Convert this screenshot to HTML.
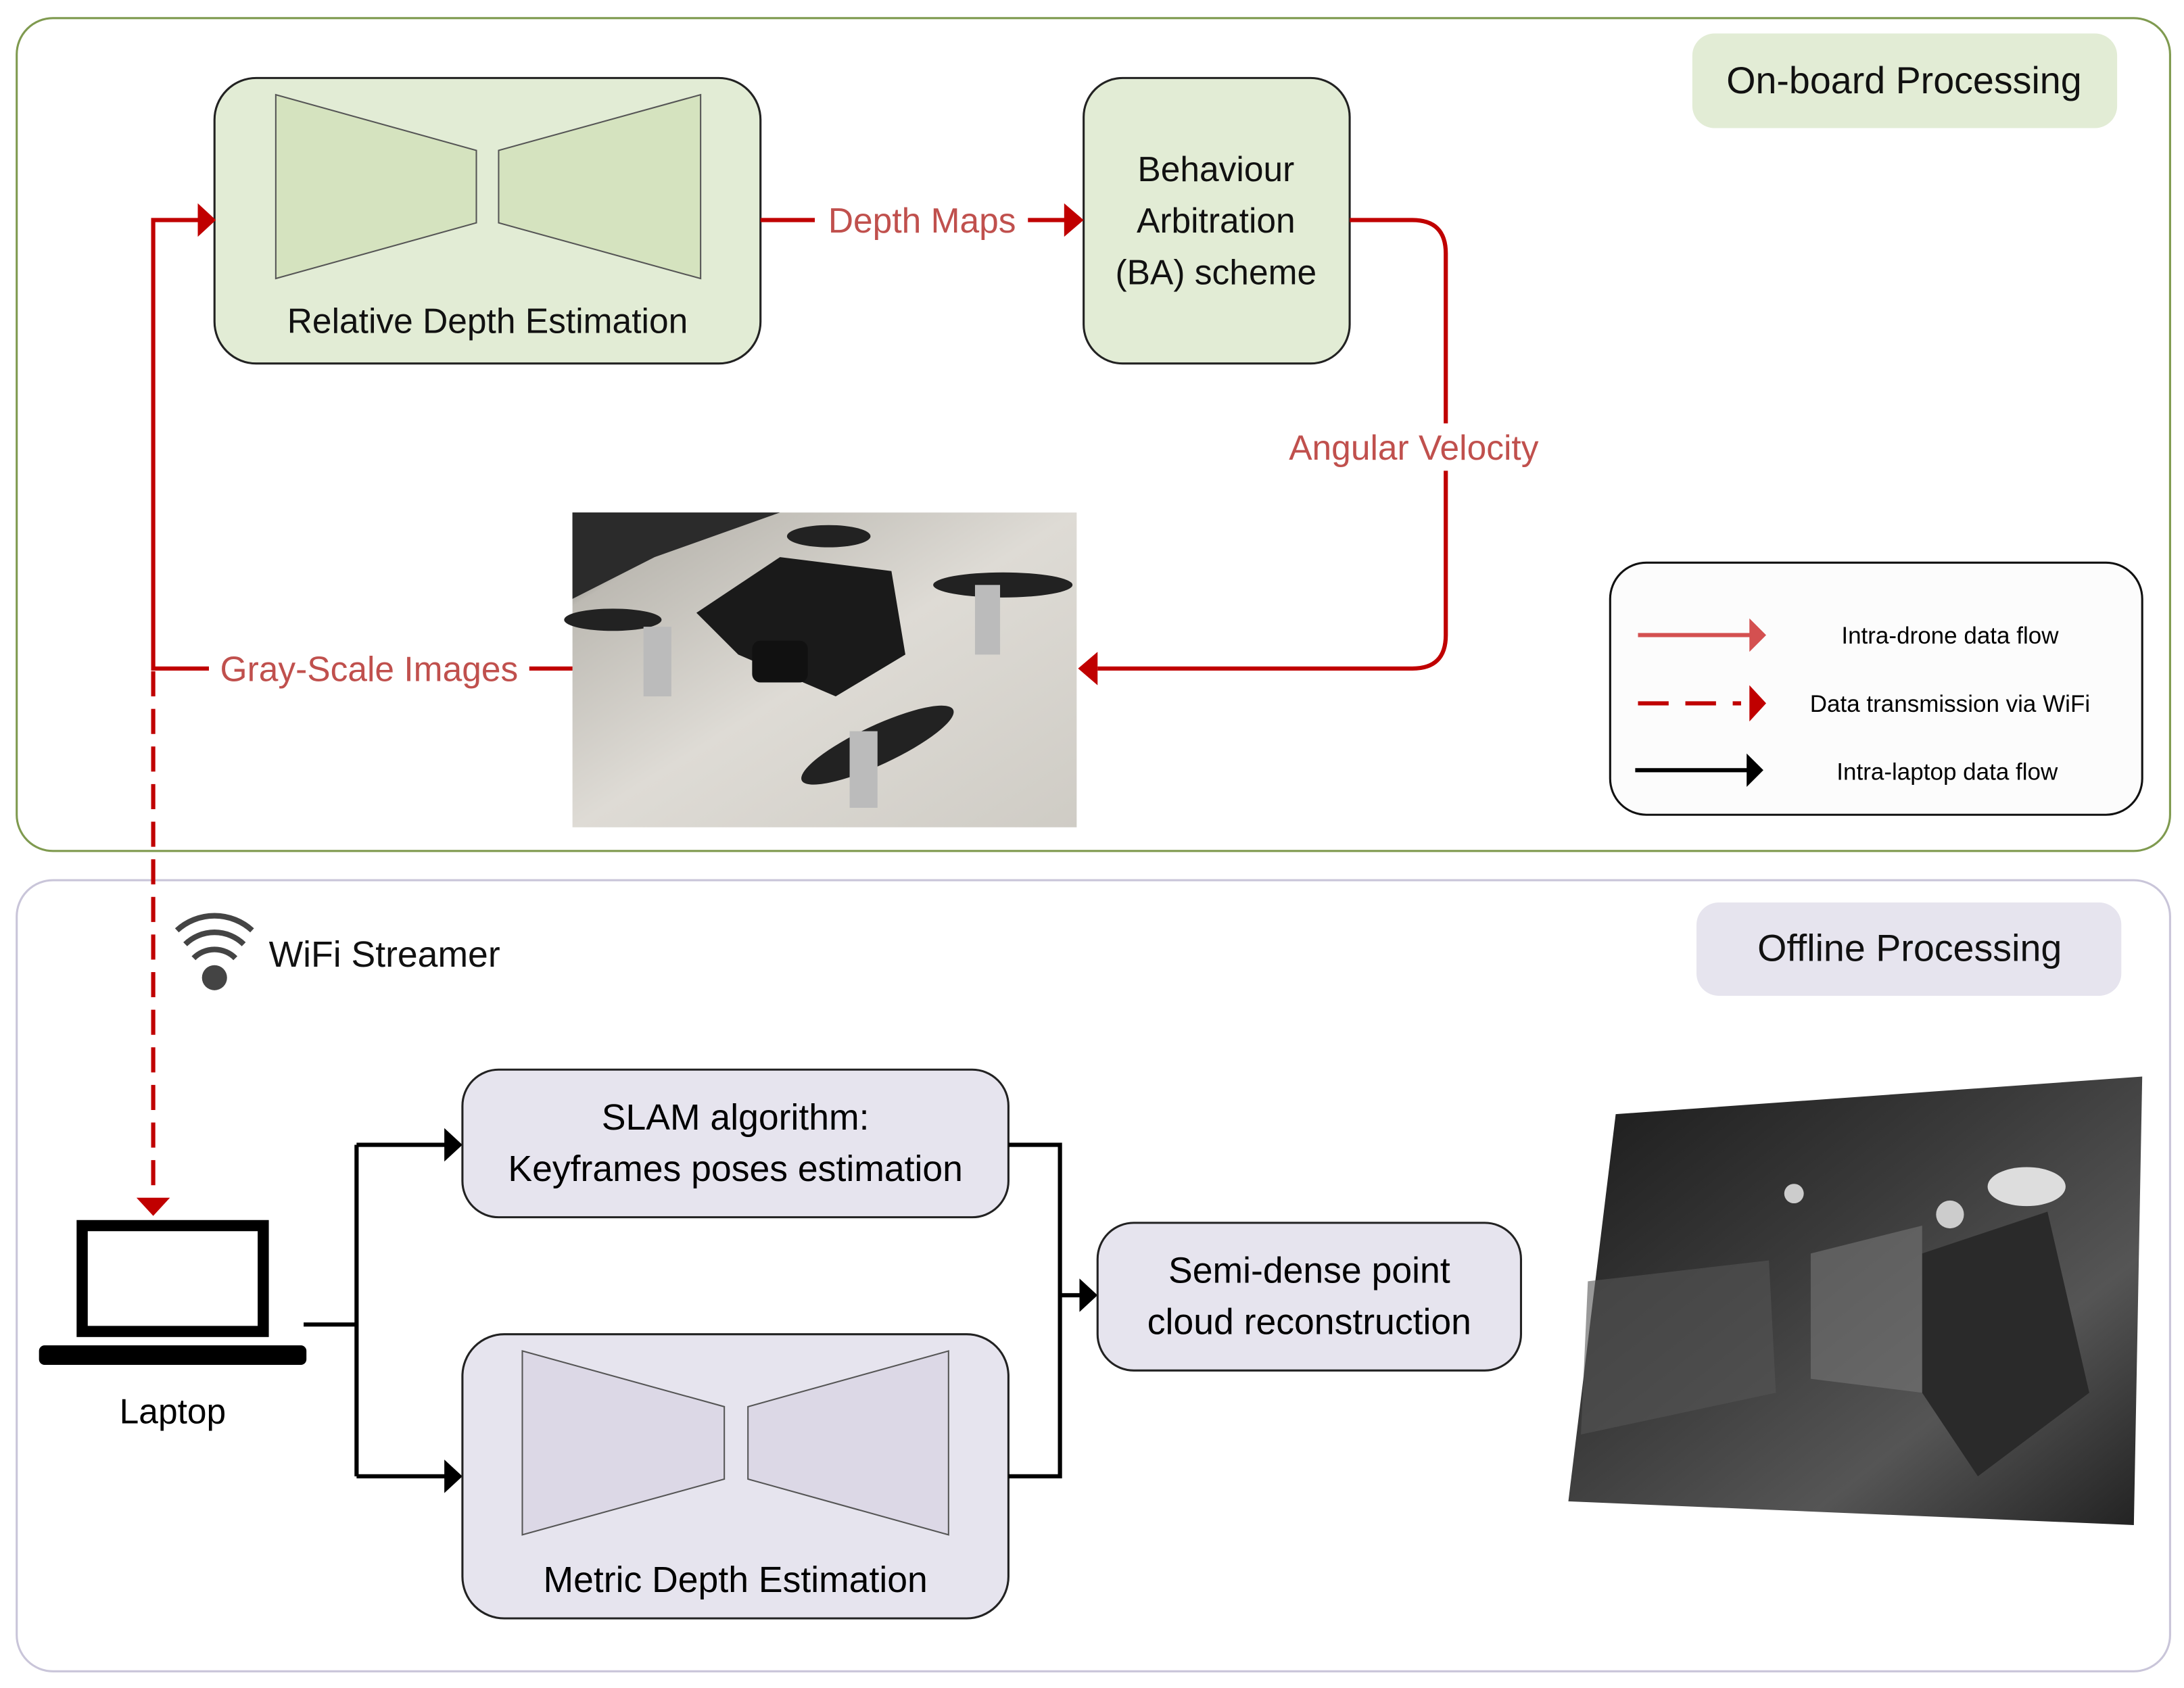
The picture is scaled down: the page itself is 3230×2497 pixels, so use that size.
<!DOCTYPE html>
<html><head><meta charset="utf-8"><style>
html,body{margin:0;padding:0;background:#fff}
svg{display:block}
text{font-family:"Liberation Sans",sans-serif}
</style></head><body>
<svg width="3230" height="2497" viewBox="0 0 1568 1212" preserveAspectRatio="none" xmlns="http://www.w3.org/2000/svg">
<defs>
<linearGradient id="pc" x1="0" y1="0" x2="1" y2="1">
<stop offset="0" stop-color="#1a1a1a"/><stop offset="0.4" stop-color="#3a3a3a"/><stop offset="0.7" stop-color="#555"/><stop offset="1" stop-color="#222"/>
</linearGradient>
<linearGradient id="ph" x1="0" y1="0" x2="1" y2="1">
<stop offset="0" stop-color="#2a2a2a"/><stop offset="0.15" stop-color="#bdbab3"/><stop offset="0.5" stop-color="#dedbd5"/><stop offset="1" stop-color="#cfccc5"/>
</linearGradient>
</defs>
<!-- panels -->
<rect x="12" y="13" width="1546" height="598" rx="26" fill="#fff" stroke="#7f9a4f" stroke-width="1.5"/>
<rect x="12" y="632" width="1546" height="568" rx="26" fill="#fff" stroke="#c9c5d9" stroke-width="1.5"/>
<rect x="1215" y="24" width="305" height="68" rx="16" fill="#e2ecd5"/>
<text x="1367" y="67" font-size="27" text-anchor="middle" fill="#111">On-board Processing</text>
<rect x="1218" y="648" width="305" height="67" rx="16" fill="#e6e4ee"/>
<text x="1371" y="690" font-size="27" text-anchor="middle" fill="#111">Offline Processing</text>

<!-- relative depth -->
<rect x="154" y="56" width="392" height="205" rx="30" fill="#e2ecd5" stroke="#222" stroke-width="1.5"/>
<polygon points="198,68 342,108 342,160 198,200" fill="#d5e3bf" stroke="#555"/>
<polygon points="358,108 503,68 503,200 358,160" fill="#d5e3bf" stroke="#555"/>
<text x="350" y="239" font-size="25" text-anchor="middle" fill="#111">Relative Depth Estimation</text>

<!-- BA -->
<rect x="778" y="56" width="191" height="205" rx="28" fill="#e2ecd5" stroke="#222" stroke-width="1.5"/>
<text x="873" y="130" font-size="25" text-anchor="middle" fill="#111">Behaviour</text>
<text x="873" y="167" font-size="25" text-anchor="middle" fill="#111">Arbitration</text>
<text x="873" y="204" font-size="25" text-anchor="middle" fill="#111">(BA) scheme</text>

<!-- depth maps arrow -->
<line x1="546" y1="158" x2="765" y2="158" stroke="#c00000" stroke-width="3"/>
<polygon points="764,146 778,158 764,170" fill="#c00000"/>
<rect x="585" y="143" width="153" height="32" fill="#fff"/>
<text x="662" y="167" font-size="25" text-anchor="middle" fill="#c0504d">Depth Maps</text>

<!-- angular velocity -->
<path d="M969,158 H1014 Q1038,158 1038,182 V456 Q1038,480 1014,480 H788" fill="none" stroke="#c00000" stroke-width="3"/>
<polygon points="788,468 774,480 788,492" fill="#c00000"/>
<rect x="912" y="304" width="206" height="34" fill="#fff"/>
<text x="1015" y="330" font-size="25" text-anchor="middle" fill="#c0504d">Angular Velocity</text>

<!-- photo -->
<rect x="411" y="368" width="362" height="226" fill="url(#ph)"/>
<polygon points="411,368 560,368 470,400 411,430" fill="#2b2b2b"/>
<polygon points="500,440 560,400 640,410 650,470 600,500 530,470" fill="#1a1a1a"/>
<rect x="540" y="460" width="40" height="30" rx="6" fill="#111"/>
<ellipse cx="440" cy="445" rx="35" ry="8" fill="#222"/>
<ellipse cx="720" cy="420" rx="50" ry="9" fill="#222"/>
<ellipse cx="595" cy="385" rx="30" ry="8" fill="#222"/>
<ellipse cx="630" cy="535" rx="60" ry="14" fill="#222" transform="rotate(-25 630 535)"/>
<rect x="462" y="450" width="20" height="50" fill="#bbb"/>
<rect x="700" y="420" width="18" height="50" fill="#bbb"/>
<rect x="610" y="525" width="20" height="55" fill="#bbb"/>

<!-- gray-scale images -->
<path d="M411,480 H110 V158 H142" fill="none" stroke="#c00000" stroke-width="3"/>
<polygon points="142,146 155,158 142,170" fill="#c00000"/>
<rect x="150" y="465" width="230" height="32" fill="#fff"/>
<text x="265" y="489" font-size="25" text-anchor="middle" fill="#c0504d">Gray-Scale Images</text>
<line x1="110" y1="482" x2="110" y2="860" stroke="#c00000" stroke-width="3" stroke-dasharray="18,9"/>
<polygon points="98,860 110,873 122,860" fill="#c00000"/>

<!-- legend -->
<rect x="1156" y="404" width="382" height="181" rx="26" fill="#fcfcfc" stroke="#111" stroke-width="1.5"/>
<line x1="1176" y1="456" x2="1258" y2="456" stroke="#d45050" stroke-width="3"/>
<polygon points="1256,444 1268,456 1256,468" fill="#d45050"/>
<text x="1400" y="462" font-size="17" text-anchor="middle">Intra-drone data flow</text>
<line x1="1176" y1="505" x2="1250" y2="505" stroke="#c00000" stroke-width="3" stroke-dasharray="22,12"/>
<polygon points="1256,492 1268,505 1256,518" fill="#c00000"/>
<text x="1400" y="511" font-size="17" text-anchor="middle">Data transmission via WiFi</text>
<line x1="1174" y1="553" x2="1256" y2="553" stroke="#000" stroke-width="3"/>
<polygon points="1254,541 1266,553 1254,565" fill="#000"/>
<text x="1398" y="560" font-size="17" text-anchor="middle">Intra-laptop data flow</text>

<!-- wifi -->
<circle cx="154" cy="702" r="9" fill="#444"/>
<path d="M139,688 A21,21 0 0 1 169,688" fill="none" stroke="#444" stroke-width="4"/>
<path d="M133,678 A30,30 0 0 1 175,678" fill="none" stroke="#444" stroke-width="4"/>
<path d="M127,668 A40,40 0 0 1 181,668" fill="none" stroke="#444" stroke-width="4"/>
<text x="193" y="694" font-size="26" fill="#111">WiFi Streamer</text>

<!-- laptop -->
<rect x="59" y="880" width="130" height="76" fill="#fff" stroke="#000" stroke-width="8"/>
<rect x="28" y="966" width="192" height="14" rx="4" fill="#000"/>
<text x="124" y="1022" font-size="25" text-anchor="middle">Laptop</text>

<!-- laptop connectors -->
<path d="M218,951 H256 M256,822 V1060 M256,822 H320 M256,1060 H320" fill="none" stroke="#000" stroke-width="3"/>
<polygon points="319,810 332,822 319,834" fill="#000"/>
<polygon points="319,1048 332,1060 319,1072" fill="#000"/>

<!-- SLAM -->
<rect x="332" y="768" width="392" height="106" rx="26" fill="#e6e4ee" stroke="#222" stroke-width="1.5"/>
<text x="528" y="811" font-size="26" text-anchor="middle">SLAM algorithm:</text>
<text x="528" y="848" font-size="26" text-anchor="middle">Keyframes poses estimation</text>

<!-- metric -->
<rect x="332" y="958" width="392" height="204" rx="30" fill="#e6e4ee" stroke="#222" stroke-width="1.5"/>
<polygon points="375,970 520,1010 520,1062 375,1102" fill="#dcd8e6" stroke="#555"/>
<polygon points="537,1010 681,970 681,1102 537,1062" fill="#dcd8e6" stroke="#555"/>
<text x="528" y="1143" font-size="26" text-anchor="middle">Metric Depth Estimation</text>

<path d="M724,822 H761 V1060 H724 M761,930 H776" fill="none" stroke="#000" stroke-width="3"/>
<polygon points="775,918 788,930 775,942" fill="#000"/>

<!-- semi-dense -->
<rect x="788" y="878" width="304" height="106" rx="26" fill="#e6e4ee" stroke="#222" stroke-width="1.5"/>
<text x="940" y="921" font-size="26" text-anchor="middle">Semi-dense point</text>
<text x="940" y="958" font-size="26" text-anchor="middle">cloud reconstruction</text>

<!-- point cloud -->
<polygon points="1160,800 1538,773 1532,1095 1126,1078" fill="url(#pc)"/>
<polygon points="1380,900 1470,870 1500,1000 1420,1060 1380,1000" fill="#2a2a2a"/>
<polygon points="1300,900 1380,880 1380,1000 1300,990" fill="#777" opacity="0.6"/>
<ellipse cx="1455" cy="852" rx="28" ry="14" fill="#ddd"/>
<circle cx="1400" cy="872" r="10" fill="#ccc"/>
<circle cx="1288" cy="857" r="7" fill="#ccc"/>
<polygon points="1140,920 1270,905 1275,1000 1135,1030" fill="#555" opacity="0.6"/>
</svg>
</body></html>
